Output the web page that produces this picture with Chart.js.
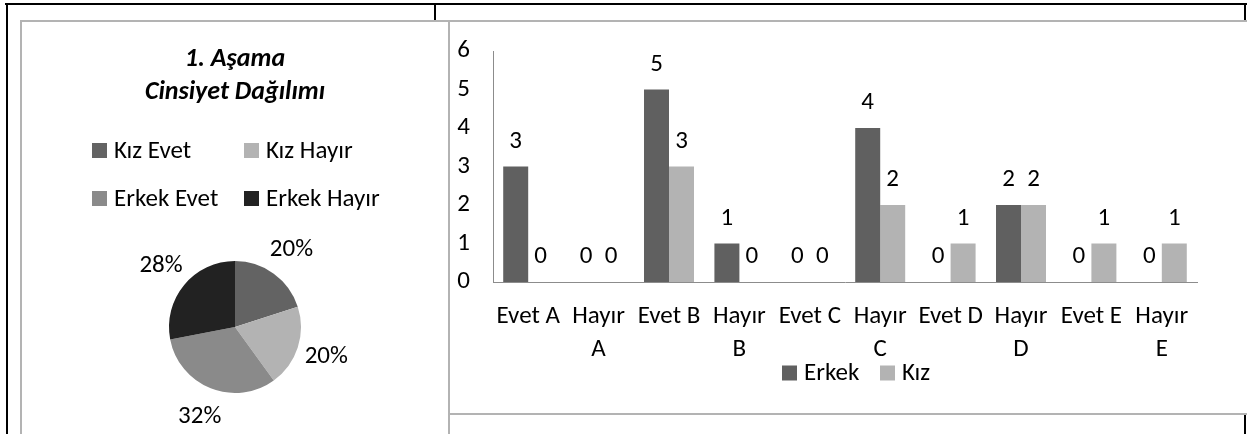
<!DOCTYPE html>
<html>
<head>
<meta charset="utf-8">
<script src="https://cdn.jsdelivr.net/npm/chart.js@4.4.1/dist/chart.umd.min.js"></script>
<style>
  body { margin: 0; background: #fff; width: 1247px; height: 434px; overflow: hidden; position: relative; }
  .rule { position: absolute; background: #000; }
  .frame { position: absolute; border: 2px solid #b3b3b3; box-sizing: border-box; background: #fff; }
  canvas { position: absolute; }
</style>
</head>
<body>
<!-- table rules around the two charts -->
<div class="rule" style="left:5px;top:3px;width:1242px;height:2px"></div>
<div class="rule" style="left:6px;top:3px;width:2px;height:431px"></div>
<div class="rule" style="left:434px;top:3px;width:2px;height:18px"></div>
<div class="rule" style="left:1244px;top:3px;width:2px;height:18px"></div>
<div class="rule" style="left:1244px;top:414px;width:2px;height:20px"></div>
<div class="frame" style="left:20px;top:20px;width:430px;height:430px"></div>
<div class="frame" style="left:448px;top:20px;width:802px;height:395px"></div>

<div style="position:absolute;left:22px;top:22px;width:426px;height:412px">
  <canvas id="pieChart"></canvas>
</div>
<div style="position:absolute;left:450px;top:22px;width:795px;height:390px">
  <canvas id="barChart"></canvas>
</div>

<script>
const FONT = "Carlito, Calibri, Lato, sans-serif";
const TEXT_SIZE = 25;

// pie: distribution by gender and answer
const pieLabels = ['Kız Evet', 'Kız Hayır', 'Erkek Evet', 'Erkek Hayır'];
const pieValues = [5, 5, 8, 7];
const pieColors = ['#636363', '#b3b3b3', '#8a8a8a', '#222222'];

// bars: answers per question
const categories = ['Evet A', 'Hayır A', 'Evet B', 'Hayır B', 'Evet C', 'Hayır C', 'Evet D', 'Hayır D', 'Evet E', 'Hayır E'];
const erkek = [3, 0, 5, 1, 0, 4, 0, 2, 0, 0];
const kiz = [0, 0, 3, 0, 0, 2, 1, 2, 1, 1];
const yMax = 6;

// legend laid out in fixed columns, like the office chart legends
const gridLegend = {
  id: 'gridLegend',
  afterDraw(chart, args, opts) {
    const ctx = chart.ctx;
    let items;
    if (chart.config.type === 'pie') {
      const ds = chart.data.datasets[0];
      items = chart.data.labels.map((l, i) => ({ text: l, color: ds.backgroundColor[i] }));
    } else {
      items = chart.data.datasets.map(ds => ({ text: ds.label, color: ds.backgroundColor }));
    }
    ctx.save();
    ctx.font = opts.size + 'px ' + FONT;
    ctx.textBaseline = 'middle';
    ctx.textAlign = 'left';
    items.forEach((it, i) => {
      const col = i % opts.columns;
      const row = Math.floor(i / opts.columns);
      const x = opts.x + col * opts.colWidth;
      const y = opts.y + row * opts.rowHeight;
      ctx.fillStyle = it.color;
      ctx.fillRect(x, y - opts.box / 2, opts.box, opts.box);
      ctx.fillStyle = '#000';
      ctx.fillText(it.text, x + opts.box + 7, y + 1);
    });
    ctx.restore();
  }
};

// value labels above bars and percentages outside the pie
const valueLabels = {
  id: 'valueLabels',
  afterDatasetsDraw(chart, args, opts) {
    const ctx = chart.ctx;
    ctx.save();
    ctx.font = opts.size + 'px ' + FONT;
    ctx.fillStyle = '#000';
    ctx.textAlign = 'center';
    ctx.textBaseline = 'middle';
    chart.data.datasets.forEach((ds, di) => {
      const meta = chart.getDatasetMeta(di);
      if (chart.config.type === 'pie') {
        const total = ds.data.reduce((a, b) => a + b, 0);
        meta.data.forEach((arc, i) => {
          const a = (arc.startAngle + arc.endAngle) / 2;
          const r = arc.outerRadius + opts.offset;
          const txt = Math.round(ds.data[i] / total * 100) + '%';
          ctx.fillText(txt, arc.x + Math.cos(a) * r, arc.y + Math.sin(a) * r);
        });
      } else {
        meta.data.forEach((bar, i) => {
          ctx.fillText(String(ds.data[i]), bar.x, bar.y - opts.offset);
        });
      }
    });
    ctx.restore();
  }
};

new Chart(document.getElementById('pieChart'), {
  type: 'pie',
  data: {
    labels: pieLabels,
    datasets: [{ data: pieValues, backgroundColor: pieColors, borderWidth: 0 }]
  },
  options: {
    responsive: true,
    maintainAspectRatio: false,
    animation: false,
    layout: { padding: { left: 0, right: 0, top: 0, bottom: 41 } },
    plugins: {
      legend: { display: false },
      tooltip: { enabled: false },
      title: {
        display: true,
        text: ['1. Aşama', 'Cinsiyet Dağılımı'],
        color: '#000',
        font: { family: FONT, size: 26, weight: 'bold', style: 'italic', lineHeight: 1.27 },
        padding: { top: 20.5, bottom: 152.5 }
      },
      gridLegend: { x: 70, y: 128.5, columns: 2, colWidth: 152, rowHeight: 48, box: 15, size: TEXT_SIZE },
      valueLabels: { size: TEXT_SIZE, offset: 30 }
    }
  },
  plugins: [gridLegend, valueLabels]
});

new Chart(document.getElementById('barChart'), {
  type: 'bar',
  data: {
    labels: categories,
    datasets: [
      { label: 'Erkek', data: erkek, backgroundColor: '#606060' },
      { label: 'Kız', data: kiz, backgroundColor: '#b3b3b3' }
    ]
  },
  options: {
    responsive: true,
    maintainAspectRatio: false,
    animation: false,
    layout: { padding: { left: 0, right: 48, top: 29, bottom: 0 } },
    datasets: { bar: { categoryPercentage: 0.71, barPercentage: 1.0 } },
    scales: {
      x: {
        grid: { display: false, drawTicks: false },
        border: { color: '#8c8c8c', width: 1 },
        ticks: {
          color: '#000',
          padding: 18.5,
          maxRotation: 0,
          autoSkip: false,
          font: { family: FONT, size: TEXT_SIZE, lineHeight: 1.32 },
          // long labels wrap onto two lines
          callback(v) {
            const l = this.getLabelForValue(v);
            return l.length > 6 ? l.split(' ') : l;
          }
        },
        afterFit(scale) { scale.height = 130; }
      },
      y: {
        min: 0,
        max: yMax,
        grid: { display: false, drawTicks: false },
        border: { color: '#8c8c8c', width: 1 },
        ticks: { stepSize: 1, color: '#000', padding: 23, font: { family: FONT, size: TEXT_SIZE } },
        // fixed axis width; the outer padding already leaves room for the top label
        afterFit(scale) {
          scale.width = 43;
          scale.paddingTop = 0;
          scale.paddingBottom = 0;
        }
      }
    },
    plugins: {
      legend: { display: false },
      tooltip: { enabled: false },
      gridLegend: { x: 332, y: 351, columns: 2, colWidth: 98, rowHeight: 0, box: 15, size: TEXT_SIZE },
      valueLabels: { size: TEXT_SIZE, offset: 25 }
    }
  },
  plugins: [gridLegend, valueLabels]
});
</script>
</body>
</html>
